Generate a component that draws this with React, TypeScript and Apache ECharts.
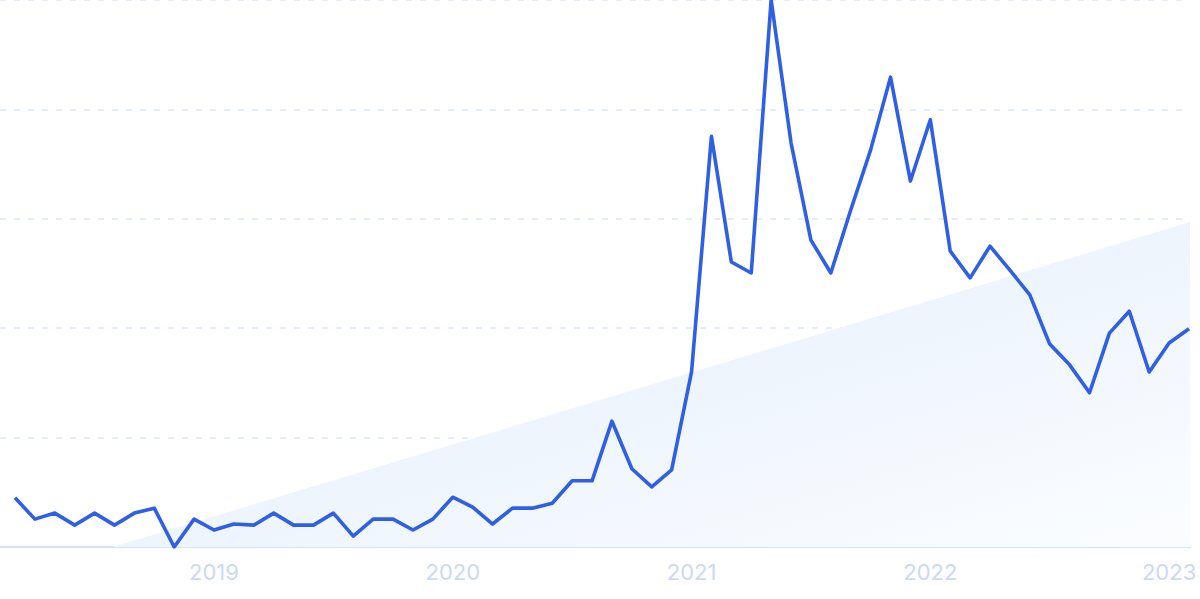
import React, { useEffect, useRef } from "react";
import * as echarts from "echarts";

// Monthly values, Mar 2018 .. Feb 2023 (index 0..59)
const values: number[] = [
  9.0, 5.1, 6.2, 4.0, 6.2, 4.0, 6.2, 7.1, 0.0, 5.1,
  3.1, 4.2, 4.0, 6.2, 4.0, 4.0, 6.2, 2.0, 5.1, 5.1,
  3.1, 5.1, 9.1, 7.3, 4.2, 7.1, 7.1, 8.0, 12.1, 12.1,
  23.0, 14.3, 11.0, 14.1, 32.0, 75.1, 52.1, 50.1, 100, 73.9,
  56.1, 50.1, 61.6, 72.6, 85.9, 66.9, 78.1, 54.1, 49.2, 55.0,
  50.6, 46.1, 37.1, 33.3, 28.2, 39.1, 43.1, 32.0, 37.3, 39.9,
];
const yearLabels: string[] = ["2019", "2020", "2021", "2022", "2023"];
const yearIndex: number[] = [10, 22, 34, 46, 58];
const trendStart: [number, number] = [4.9, 0];
const trendEnd: [number, number] = [59.05, 59.4];

export default function App() {
  const ref = useRef<HTMLDivElement>(null);
  useEffect(() => {
    if (!ref.current) return;
    const chart = echarts.init(ref.current, undefined, { renderer: "svg" });
    const seriesData = values.map((v, i) => [i, v]);
    chart.setOption({
      animation: false,
      backgroundColor: "#ffffff",
      grid: { left: 0, right: 10, top: 0, bottom: 52, containLabel: false },
      xAxis: {
        type: "value",
        min: -0.754,
        max: 59.05,
        splitLine: { show: false },
        axisTick: { show: false },
        axisLine: { show: true, lineStyle: { color: "#d2e4fb", width: 2 } },
        axisLabel: {
          customValues: yearIndex,
          formatter: (v: number) => {
            const k = yearIndex.indexOf(Math.round(v));
            return k >= 0 ? yearLabels[k] : "";
          },
          color: "#cdd8f4",
          fontSize: 22,
          fontFamily: "Inter",
          margin: 14,
        },
      },
      yAxis: {
        type: "value",
        min: 0,
        max: 100,
        interval: 20,
        axisLine: { show: false },
        axisTick: { show: false },
        axisLabel: { show: false },
        splitLine: {
          show: true,
          lineStyle: { color: "#dde6fb", width: 1.5, type: [6, 8] },
        },
      },
      series: [
        {
          type: "line",
          data: [trendStart, trendEnd],
          symbol: "none",
          lineStyle: { width: 0 },
          areaStyle: {
            opacity: 1,
            color: new echarts.graphic.LinearGradient(0, 0, 1, 1, [
              { offset: 0, color: "#e1ecfb" },
              { offset: 1, color: "#fbfdff" },
            ]),
          },
          silent: true,
          z: 1,
        },
        {
          type: "line",
          data: seriesData,
          symbol: "none",
          lineStyle: { color: "#2f5fe4", width: 3.6, join: "round" },
          z: 3,
        },
      ],
    });
    return () => chart.dispose();
  }, []);
  return (
    <div
      ref={ref}
      style={{ position: "absolute", left: 0, top: 0, width: 1200, height: 599 }}
    />
  );
}
